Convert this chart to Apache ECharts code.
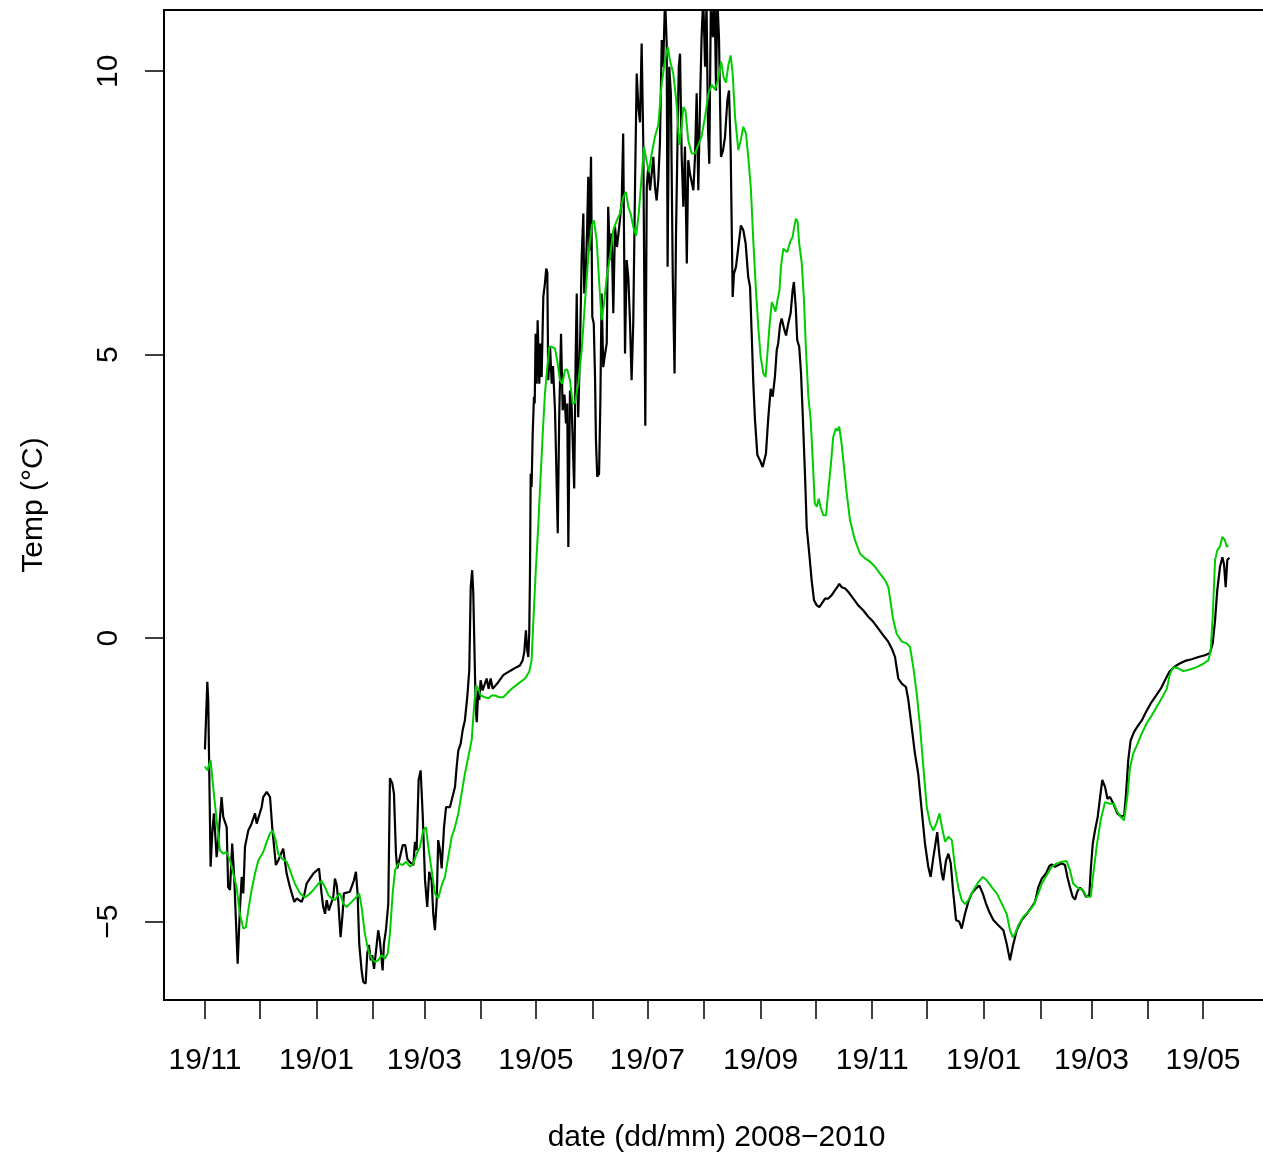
<!DOCTYPE html>
<html><head><meta charset="utf-8">
<script src="https://cdn.jsdelivr.net/npm/echarts@6/dist/echarts.min.js"></script>
<style>html,body{margin:0;padding:0;background:#fff;overflow:hidden}#c{width:1263px;height:1157px}</style>
</head><body><div id="c"></div>
<script>
// days since 19/11/2008, temperature (°C)
const blackObs = [[0.0,-1.96],[1.3,-0.77],[1.8,-1.09],[3.1,-4.03],[4.0,-3.44],[4.9,-3.09],[6.4,-3.86],[7.3,-3.56],[9.1,-2.80],[10.0,-3.15],[11.9,-3.33],[12.7,-4.39],[13.7,-4.44],[14.9,-3.62],[16.0,-4.21],[16.8,-4.86],[17.9,-5.74],[19.1,-4.80],[20.1,-4.21],[21.0,-4.50],[21.9,-3.68],[23.7,-3.39],[25.5,-3.27],[27.4,-3.09],[28.3,-3.27],[31.0,-2.98],[31.9,-2.80],[33.8,-2.71],[35.6,-2.80],[36.8,-3.33],[38.8,-4.00],[40.1,-3.92],[42.8,-3.71],[44.7,-4.15],[46.5,-4.39],[48.9,-4.65],[50.2,-4.59],[52.9,-4.65],[54.3,-4.53],[55.6,-4.33],[57.4,-4.24],[59.3,-4.15],[62.4,-4.06],[63.8,-4.50],[64.7,-4.74],[65.7,-4.86],[66.6,-4.62],[67.8,-4.80],[70.2,-4.56],[71.1,-4.24],[72.1,-4.36],[72.9,-4.62],[74.2,-5.27],[75.3,-4.86],[76.0,-4.50],[79.3,-4.47],[81.5,-4.27],[82.6,-4.12],[83.5,-4.50],[84.4,-5.39],[85.7,-5.86],[86.6,-6.06],[87.9,-6.09],[88.8,-5.56],[89.7,-5.41],[90.7,-5.68],[91.5,-5.59],[92.5,-5.83],[94.8,-5.15],[95.7,-5.33],[97.2,-5.86],[97.9,-5.39],[99.0,-5.15],[100.3,-4.68],[101.2,-2.47],[102.5,-2.56],[103.4,-2.74],[104.5,-3.80],[105.2,-4.06],[106.7,-3.86],[108.2,-3.65],[109.6,-3.65],[110.7,-3.89],[111.8,-3.94],[114.0,-4.00],[114.9,-3.59],[115.8,-3.74],[116.9,-2.50],[118.0,-2.33],[119.1,-3.09],[120.4,-4.27],[121.6,-4.74],[122.7,-4.12],[124.0,-4.27],[124.9,-4.86],[125.8,-5.15],[126.8,-4.62],[127.6,-3.56],[128.6,-3.74],[129.5,-4.06],[130.8,-3.33],[131.9,-2.98],[134.0,-2.98],[136.8,-2.62],[137.7,-2.27],[138.6,-1.98],[139.9,-1.86],[141.0,-1.62],[142.2,-1.45],[143.5,-1.04],[144.6,-0.56],[145.4,0.90],[146.2,1.20],[146.8,0.79],[148.1,-1.21],[148.7,-1.48],[149.5,-0.92],[150.1,-1.09],[150.8,-0.74],[151.9,-0.92],[154.1,-0.71],[155.2,-0.89],[156.3,-0.71],[157.4,-0.89],[159.9,-0.80],[163.2,-0.65],[165.1,-0.61],[167.8,-0.56],[170.5,-0.51],[172.3,-0.48],[173.8,-0.39],[174.7,-0.24],[175.6,0.14],[176.3,-0.21],[176.9,-0.33],[177.4,0.08],[177.8,1.08],[178.2,2.90],[178.7,2.67],[179.3,3.61],[180.0,4.26],[180.4,4.14],[180.9,5.37],[181.5,4.49],[182.0,5.61],[182.9,4.49],[183.4,5.20],[184.2,4.61],[185.1,6.02],[186.0,6.26],[186.7,6.52],[187.3,6.45],[187.8,4.55],[188.8,5.14],[189.7,4.49],[190.4,4.80],[191.5,4.02],[192.0,3.32],[193.0,1.85],[193.8,3.90],[194.8,5.37],[195.7,4.02],[196.7,4.30],[197.5,3.79],[198.2,4.14],[198.8,1.61],[199.7,4.37],[200.6,4.10],[201.5,3.14],[202.0,2.64],[202.8,4.96],[203.4,6.08],[204.2,3.90],[205.2,5.14],[206.1,6.72],[207.0,7.49],[207.5,6.08],[208.3,6.38],[209.0,7.14],[209.7,8.14],[210.3,6.84],[211.2,8.49],[211.9,5.67],[212.7,5.55],[213.4,4.61],[213.9,3.49],[214.6,2.85],[215.6,2.90],[216.3,4.14],[217.0,6.08],[217.9,4.78],[218.8,5.00],[219.8,5.20],[220.6,7.61],[221.6,6.67],[222.5,7.14],[223.4,5.73],[224.3,7.26],[225.4,6.90],[227.0,7.37],[228.0,7.72],[228.8,8.90],[229.8,5.02],[230.7,6.67],[231.6,6.37],[232.5,5.60],[233.4,4.55],[234.3,5.55],[235.3,8.02],[236.2,9.96],[237.1,9.37],[238.0,9.10],[238.9,10.49],[239.8,8.73],[240.9,3.75],[241.7,7.96],[242.5,8.31],[243.5,7.90],[244.4,8.20],[245.3,8.49],[246.2,7.96],[247.1,7.72],[248.0,8.08],[248.9,8.73],[249.9,10.55],[250.7,10.08],[251.7,11.30],[252.6,10.49],[253.1,6.55],[254.0,10.08],[254.9,9.60],[255.9,6.43],[256.9,4.67],[257.7,7.14],[259.2,10.08],[259.9,10.31],[260.8,8.50],[261.7,7.61],[262.6,8.67],[263.6,6.61],[264.4,8.43],[265.3,8.20],[267.2,7.90],[268.1,8.50],[269.0,9.61],[269.9,7.90],[270.8,9.37],[271.7,10.61],[272.6,11.30],[273.6,10.08],[274.4,11.20],[275.2,9.00],[275.9,8.37],[276.8,11.30],[277.9,10.60],[278.8,11.30],[279.6,9.66],[280.3,11.30],[281.2,10.60],[282.3,8.49],[283.4,8.60],[284.5,8.84],[285.8,9.49],[286.7,9.66],[287.6,8.61],[288.7,6.02],[289.4,6.43],[290.5,6.55],[291.8,6.90],[293.2,7.28],[294.5,7.20],[295.8,6.96],[297.2,6.37],[298.2,6.20],[299.1,5.37],[300.0,4.49],[300.9,3.85],[302.2,3.23],[303.6,3.14],[305.1,3.02],[305.8,3.02],[306.9,3.26],[308.2,3.90],[309.5,4.40],[310.6,4.26],[311.8,4.61],[312.8,5.08],[313.6,5.20],[314.6,5.52],[315.5,5.64],[316.8,5.46],[317.9,5.34],[319.1,5.55],[320.4,5.73],[321.5,6.14],[322.2,6.28],[323.2,5.84],[324.0,5.26],[325.1,5.14],[326.1,4.67],[327.0,3.96],[328.3,2.85],[329.2,1.96],[330.6,1.49],[331.9,1.02],[333.2,0.67],[334.7,0.58],[336.1,0.55],[337.4,0.61],[339.2,0.70],[341.0,0.70],[342.9,0.76],[344.7,0.85],[345.9,0.90],[347.0,0.96],[348.3,0.90],[350.1,0.88],[351.9,0.82],[354.7,0.70],[357.4,0.58],[360.2,0.49],[362.9,0.38],[365.6,0.29],[368.4,0.17],[371.1,0.05],[373.8,-0.06],[375.7,-0.18],[377.5,-0.33],[379.3,-0.71],[381.2,-0.80],[383.5,-0.86],[384.8,-1.09],[386.6,-1.56],[388.4,-2.03],[390.2,-2.39],[392.1,-3.03],[393.9,-3.62],[395.7,-4.03],[397.0,-4.21],[398.5,-3.86],[400.6,-3.42],[401.7,-3.80],[403.1,-4.15],[403.9,-4.27],[405.4,-3.92],[406.7,-3.80],[408.0,-3.97],[409.4,-4.50],[410.9,-4.97],[412.7,-5.00],[414.0,-5.12],[415.8,-4.86],[417.6,-4.65],[419.5,-4.50],[421.8,-4.41],[423.6,-4.36],[425.5,-4.50],[427.3,-4.68],[429.1,-4.83],[431.3,-4.97],[434.0,-5.06],[436.8,-5.15],[438.6,-5.39],[440.4,-5.68],[441.9,-5.44],[444.1,-5.15],[446.8,-4.97],[449.6,-4.86],[452.3,-4.74],[454.1,-4.65],[455.9,-4.39],[457.8,-4.24],[460.1,-4.15],[461.9,-4.02],[463.2,-3.99],[465.0,-4.03],[468.7,-3.97],[470.5,-4.00],[471.8,-4.21],[473.2,-4.39],[474.7,-4.56],[476.0,-4.61],[477.2,-4.47],[478.7,-4.40],[480.3,-4.45],[482.0,-4.56],[483.8,-4.53],[484.7,-4.03],[485.7,-3.62],[486.9,-3.39],[488.4,-3.15],[489.7,-2.80],[490.9,-2.50],[492.4,-2.62],[493.7,-2.83],[495.1,-2.80],[497.0,-2.92],[499.1,-3.09],[501.5,-3.15],[502.9,-3.12],[503.9,-2.74],[505.1,-2.15],[506.4,-1.80],[508.3,-1.65],[510.1,-1.56],[512.5,-1.45],[514.8,-1.30],[517.4,-1.15],[520.3,-1.01],[522.9,-0.89],[525.2,-0.74],[527.6,-0.59],[530.1,-0.51],[533.0,-0.45],[536.2,-0.40],[539.8,-0.37],[543.5,-0.33],[547.1,-0.30],[549.8,-0.26],[551.3,-0.09],[552.6,0.32],[553.8,0.85],[555.3,1.26],[556.6,1.43],[557.5,1.30],[558.4,0.90],[559.3,1.38],[560.4,1.42]];

const greenObs = [[0.0,-2.26],[1.3,-2.33],[3.1,-2.15],[4.5,-2.62],[6.4,-3.21],[8.2,-3.74],[10.0,-3.80],[11.9,-3.77],[13.7,-3.92],[15.5,-4.15],[17.3,-4.39],[19.1,-4.86],[21.0,-5.12],[22.4,-5.10],[23.7,-4.80],[25.5,-4.44],[27.4,-4.15],[29.2,-3.92],[31.9,-3.77],[33.8,-3.59],[35.6,-3.44],[37.0,-3.39],[38.7,-3.56],[40.1,-3.80],[42.3,-3.89],[44.7,-3.94],[46.5,-4.09],[49.2,-4.33],[52.0,-4.50],[54.7,-4.57],[56.9,-4.52],[59.3,-4.44],[62.0,-4.33],[63.8,-4.28],[65.7,-4.39],[67.5,-4.53],[69.3,-4.59],[71.1,-4.62],[72.2,-4.56],[73.9,-4.50],[75.7,-4.68],[77.5,-4.74],[80.3,-4.65],[83.0,-4.56],[84.4,-4.50],[85.7,-4.74],[87.5,-5.21],[89.3,-5.50],[91.2,-5.65],[93.0,-5.71],[94.7,-5.68],[96.7,-5.59],[98.5,-5.65],[100.0,-5.56],[101.2,-5.21],[102.7,-4.50],[104.0,-4.09],[105.8,-3.97],[108.2,-4.00],[110.0,-3.94],[112.2,-4.03],[114.0,-3.97],[115.8,-3.80],[117.6,-3.68],[119.4,-3.39],[120.9,-3.33],[122.2,-3.68],[124.0,-4.09],[125.8,-4.50],[127.6,-4.59],[129.5,-4.36],[131.3,-4.21],[133.1,-3.86],[135.0,-3.50],[136.8,-3.33],[138.6,-3.09],[140.4,-2.74],[142.2,-2.39],[144.1,-2.09],[145.9,-1.80],[147.2,-1.21],[148.3,-0.83],[149.5,-0.89],[150.8,-1.01],[153.2,-1.04],[155.0,-1.06],[156.9,-1.01],[158.7,-1.01],[161.0,-1.04],[163.2,-1.04],[165.1,-0.98],[167.8,-0.89],[171.4,-0.80],[175.1,-0.71],[177.4,-0.59],[178.7,-0.39],[179.6,0.26],[180.9,1.14],[182.4,2.02],[183.7,2.90],[184.8,3.61],[186.0,4.32],[187.3,4.78],[188.4,5.14],[189.8,5.14],[191.5,5.11],[192.7,4.90],[194.2,4.55],[195.5,4.49],[197.0,4.73],[198.2,4.74],[199.7,4.55],[201.2,4.14],[202.4,4.15],[204.2,4.49],[206.1,5.08],[207.9,5.93],[209.7,6.72],[211.6,7.28],[212.8,7.37],[214.3,7.02],[215.7,6.26],[217.0,5.61],[218.3,5.90],[219.8,6.37],[221.6,6.72],[223.4,7.20],[225.3,7.37],[227.0,7.49],[228.8,7.78],[230.3,7.87],[231.6,7.61],[232.9,7.49],[234.3,7.26],[235.9,7.10],[237.3,7.49],[238.9,8.14],[240.2,8.67],[241.7,8.40],[242.9,8.22],[244.4,8.55],[246.2,8.85],[248.0,9.05],[249.9,9.79],[251.7,10.19],[253.2,10.43],[254.4,10.19],[256.2,9.96],[258.1,9.40],[259.5,8.70],[260.8,9.02],[261.7,9.37],[262.9,9.30],[264.4,8.78],[266.3,8.55],[268.1,8.55],[269.9,8.70],[271.7,8.85],[273.6,9.20],[275.4,9.60],[277.2,9.76],[279.0,9.68],[280.7,9.85],[282.4,10.17],[283.7,9.90],[285.0,9.80],[286.3,10.10],[287.6,10.28],[288.7,9.96],[290.0,9.19],[291.8,8.61],[293.1,8.78],[294.5,9.02],[296.0,8.90],[297.2,8.49],[298.6,7.96],[300.0,7.00],[301.5,6.10],[302.8,5.45],[304.0,4.96],[305.5,4.67],[306.7,4.61],[307.7,5.02],[308.8,5.49],[310.1,5.93],[311.1,5.85],[312.1,5.76],[313.2,5.96],[314.3,6.14],[315.1,6.55],[316.4,6.87],[317.4,6.88],[318.6,6.81],[320.1,6.99],[321.5,7.08],[322.4,7.26],[323.3,7.40],[324.2,7.35],[325.1,6.96],[326.5,6.61],[327.7,5.96],[328.8,5.08],[330.1,4.26],[331.4,3.84],[332.5,3.14],[333.6,2.38],[334.7,2.32],[335.8,2.46],[336.7,2.32],[338.3,2.17],[339.8,2.17],[341.0,2.61],[342.3,3.02],[343.7,3.55],[345.1,3.70],[346.0,3.66],[347.0,3.73],[348.3,3.43],[349.6,3.02],[351.1,2.55],[352.9,2.08],[355.6,1.73],[358.4,1.49],[361.1,1.41],[363.9,1.35],[366.6,1.26],[369.3,1.14],[372.1,1.02],[373.9,0.90],[374.8,0.70],[376.4,0.35],[378.4,0.08],[381.2,-0.06],[383.9,-0.09],[385.7,-0.15],[387.5,-0.51],[389.4,-0.98],[391.2,-1.56],[393.0,-2.27],[394.9,-2.98],[396.7,-3.27],[398.5,-3.39],[400.3,-3.25],[401.8,-3.09],[403.3,-3.35],[404.9,-3.59],[406.7,-3.50],[408.6,-3.56],[410.3,-4.03],[412.1,-4.39],[414.0,-4.62],[415.8,-4.69],[417.6,-4.62],[420.4,-4.44],[423.1,-4.30],[425.5,-4.21],[427.7,-4.27],[430.4,-4.39],[433.2,-4.50],[435.9,-4.68],[438.6,-4.86],[440.4,-5.15],[441.9,-5.27],[443.2,-5.21],[445.0,-5.06],[447.7,-4.91],[450.4,-4.83],[453.2,-4.71],[455.9,-4.50],[457.8,-4.33],[460.5,-4.18],[463.2,-4.03],[466.0,-3.97],[468.7,-3.94],[471.4,-3.93],[473.2,-4.09],[475.0,-4.33],[477.8,-4.41],[480.2,-4.44],[482.4,-4.56],[484.6,-4.56],[486.0,-4.15],[487.8,-3.68],[490.0,-3.21],[492.4,-2.89],[495.1,-2.92],[497.3,-2.92],[499.1,-3.06],[501.0,-3.15],[502.8,-3.21],[504.6,-2.80],[506.1,-2.27],[507.9,-2.03],[509.8,-1.89],[512.5,-1.68],[515.2,-1.50],[518.0,-1.36],[520.7,-1.21],[523.4,-1.06],[526.2,-0.89],[528.0,-0.62],[529.8,-0.51],[532.5,-0.53],[535.2,-0.58],[538.9,-0.55],[542.5,-0.51],[546.2,-0.45],[548.9,-0.39],[550.2,-0.21],[551.3,0.38],[552.6,1.38],[553.8,1.55],[555.3,1.62],[556.6,1.79],[558.0,1.73],[559.0,1.61],[559.8,1.64]];

// monthly ticks (19th of each month), labels every two months
const tickDays = [0,30,61,92,120,151,181,212,242,273,304,334,365,395,426,457,485,516,546];
const labelDays = [0,61,120,181,242,304,365,426,485,546];
const labelText = ['19/11','19/01','19/03','19/05','19/07','19/09','19/11','19/01','19/03','19/05'];
const yTicks = [-5,0,5,10];

const FONT = '"Liberation Sans", Arial, Helvetica, sans-serif';
const chart = echarts.init(document.getElementById('c'), null, {renderer:'canvas'});
chart.setOption({
  animation:false,
  backgroundColor:'#fff',
  textStyle:{fontFamily:FONT},
  grid:{left:164, top:10, width:1105, height:990, show:true, borderColor:'#000', borderWidth:2,
        containLabel:false, outerBoundsMode:'none'},
  xAxis:{
    type:'value', min:-22.4, max:582.1,
    axisLine:{show:true, onZero:false, lineStyle:{color:'#000', width:2}},
    axisTick:{show:true, length:19, customValues:tickDays, lineStyle:{color:'#000', width:1.5}},
    axisLabel:{customValues:labelDays, fontSize:30, color:'#000', fontFamily:FONT, margin:46,
      formatter:function(v){const i=labelDays.indexOf(Math.round(v)); return i>=0?labelText[i]:'';}},
    splitLine:{show:false},
    name:'date (dd/mm) 2008\u22122010', nameLocation:'middle', nameGap:123,
    nameTextStyle:{fontSize:30, color:'#000', fontFamily:FONT}
  },
  yAxis:{
    type:'value', min:-6.38, max:11.08,
    axisLine:{show:true, onZero:false, lineStyle:{color:'#000', width:2}},
    axisTick:{show:true, length:19, customValues:yTicks, lineStyle:{color:'#000', width:1.5}},
    axisLabel:{customValues:yTicks, rotate:90, fontSize:30, color:'#000', fontFamily:FONT, margin:40,
      formatter:function(v){return String(v).replace('-', '\u2212');}},
    splitLine:{show:false},
    name:'Temp (\u00B0C)', nameLocation:'middle', nameGap:115,
    nameTextStyle:{fontSize:30, color:'#000', fontFamily:FONT}
  },
  series:[
    {type:'line', name:'observed', data:blackObs, showSymbol:false, symbol:'none', clip:true,
     lineStyle:{color:'#000', width:2.2}, z:2},
    {type:'line', name:'smoothed', data:greenObs, showSymbol:false, symbol:'none', clip:true,
     lineStyle:{color:'#00CD00', width:2}, z:3}
  ]
});
</script>
</body></html>
